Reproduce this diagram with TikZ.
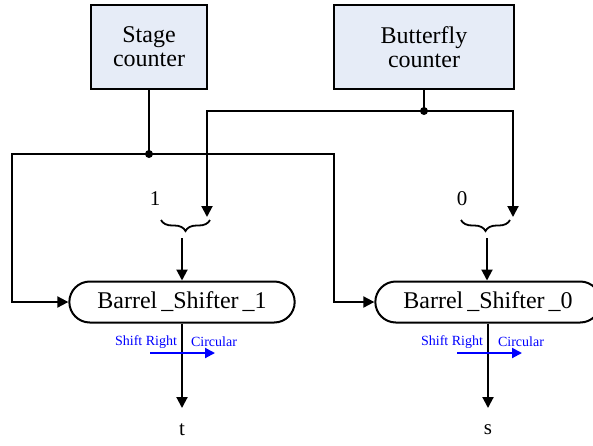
\documentclass[tikz,border=0pt]{standalone}
\usepackage{fontspec}
\setmainfont{Liberation Serif}
\usetikzlibrary{arrows.meta,shapes.misc,decorations.pathreplacing}
\definecolor{boxfill}{HTML}{E6ECF7}
\tikzset{
  wire/.style={line width=2pt,black},
  arr/.style={wire,-{Triangle[length=11pt,width=11pt]}},
  counterbox/.style={draw,line width=2pt,fill=boxfill,align=center,
    font=\fontsize{24}{24}\selectfont},
  shifter/.style={draw,line width=2pt,rounded rectangle,minimum height=41pt,
    minimum width=232pt,font=\fontsize{24}{24}\selectfont},
  dot/.style={circle,fill=black,inner sep=0pt,minimum size=8pt},
  lbl/.style={font=\fontsize{21}{22}\selectfont},
  bluelbl/.style={text=blue,font=\fontsize{14}{14}\selectfont,inner sep=0pt},
  bluearr/.style={draw=blue,line width=2pt,-{Triangle[length=10pt,width=10pt]}},
  bracestyle/.style={line width=1.8pt,decorate,decoration={brace,mirror,amplitude=11pt}},
}
\begin{document}
\begin{tikzpicture}[x=1pt,y=-1pt]
\useasboundingbox (0,0) rectangle (593,445);
\clip (0,0) rectangle (593,445);

% counters
\node[counterbox,minimum width=116pt,minimum height=84pt] (stage) at (149,47) {Stage\\counter};
\node[counterbox,minimum width=180pt,minimum height=84pt] (bfly) at (424,47) {Butterfly\\counter};

% barrel shifters
\node[shifter] (bs1) at (182,302) {Barrel\,\_Shifter\,\_1};
\node[shifter] (bs0) at (488,302) {Barrel\,\_Shifter\,\_0};

% junctions
\node[dot] (j1) at (149,154) {};
\node[dot] (j2) at (424,111) {};
\coordinate (sl) at (12,154);
\coordinate (sr) at (334,154);
\coordinate (bl) at (207,111);
\coordinate (br) at (513,111);
\coordinate (blt) at (207,217);
\coordinate (brt) at (513,217);

% stage counter fan-out
\draw[wire] (stage.south) -- (j1.center);
\draw[arr] (j1.center) -- (sl) |- (bs1.west);
\draw[arr] (j1.center) -- (sr) |- (bs0.west);

% butterfly counter fan-out
\draw[wire] (bfly.south) -- (j2.center);
\draw[arr] (j2.center) -- (bl) -- (blt);
\draw[arr] (j2.center) -- (br) -- (brt);

% bit-select braces
\coordinate (b1a) at (161,220);
\coordinate (b1b) at (210,220);
\coordinate (b0a) at (461,220);
\coordinate (b0b) at (510,220);
\draw[bracestyle] (b1a) -- (b1b);
\draw[bracestyle] (b0a) -- (b0b);
\node[lbl] (one) at (155,199) {1};
\node[lbl] (zero) at (462,199) {0};
\coordinate (t1) at (182,238);
\coordinate (t0) at (487,238);
\draw[arr] (t1) -- (t1 |- bs1.north);
\draw[arr] (t0) -- (t0 |- bs0.north);

% outputs
\coordinate (o1) at (182,408);
\coordinate (o0) at (488,408);
\draw[arr] (bs1.south) -- (o1);
\draw[arr] (bs0.south) -- (o0);
\node[lbl] (tl) at (182,430) {t};
\node[lbl] (sl2) at (488,430) {s};

% shift direction annotations
\coordinate (a1s) at (150,353);
\coordinate (a1e) at (215,353);
\coordinate (a0s) at (457,353);
\coordinate (a0e) at (522,353);
\draw[bluearr] (a1s) -- (a1e);
\draw[bluearr] (a0s) -- (a0e);
\node[bluelbl] (sr1) at (146,342) {Shift Right};
\node[bluelbl] (c1) at (214,342) {Circular};
\node[bluelbl] (sr0) at (452,342) {Shift Right};
\node[bluelbl] (c0) at (521,342) {Circular};
\end{tikzpicture}
\end{document}
